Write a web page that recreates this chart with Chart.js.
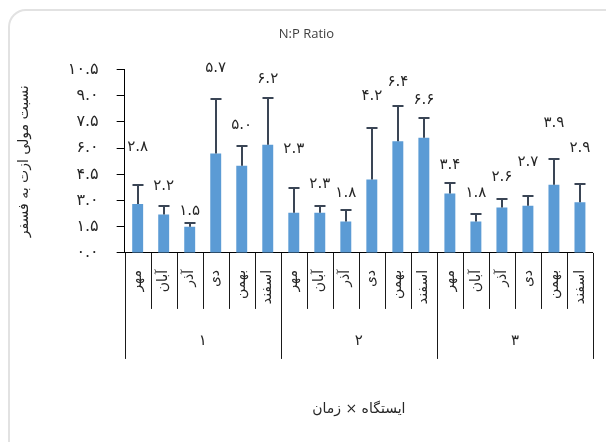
<!DOCTYPE html>
<html>
<head>
<meta charset="utf-8">
<script src="https://cdn.jsdelivr.net/npm/chart.js@4.4.0/dist/chart.umd.min.js"></script>
<style>
    html, body { margin: 0; padding: 0; background: #fff; overflow: hidden; }
    #wrap { position: relative; width: 606px; height: 442px; }
    #card { position: absolute; left: 8px; top: 9px; width: 640px; height: 480px;
            border: 2px solid #e2e2e2; border-radius: 18px; box-sizing: border-box; }
    canvas { position: absolute; left: 0; top: 0; }
</style>
</head>
<body>
<div id="wrap">
    <div id="card"></div>
    <canvas id="chart" width="606" height="442"></canvas>
</div>
<script>
// N:P ratio by station x month
const months = ['مهر', 'آبان', 'آذر', 'دی', 'بهمن', 'اسفند'];
const stations = ['۱', '۲', '۳'];
const values = [2.8, 2.2, 1.5, 5.7, 5.0, 6.2,
                2.3, 2.3, 1.8, 4.2, 6.4, 6.6,
                3.4, 1.8, 2.6, 2.7, 3.9, 2.9];
const errors = [1.08, 0.5, 0.21, 3.1, 1.14, 2.7,
                1.42, 0.4, 0.63, 2.96, 2.0, 1.15,
                0.6, 0.42, 0.49, 0.58, 1.46, 1.04];
// where each value label sits (in axis units), as placed in the original
const labelAt = [6.04, 3.80, 2.41, 10.56, 7.33, 9.97,
                 5.92, 3.95, 3.42, 9.01, 9.79, 8.78,
                 5.05, 3.42, 4.34, 5.21, 7.43, 5.98];

const labels = stations.flatMap(() => months);
const faFont = "'DejaVu Sans', sans-serif";

const toFa = s => String(s).replace(/\d/g, d => '۰۱۲۳۴۵۶۷۸۹'[d]);

const errorBars = {
    id: 'errorBars',
    afterDatasetsDraw(chart) {
        const { ctx, scales: { x, y } } = chart;
        ctx.save();
        ctx.strokeStyle = '#3a4555';
        ctx.lineWidth = 2;
        values.forEach((v, i) => {
            const cx = Math.round(x.getPixelForValue(i));
            const y0 = y.getPixelForValue(v);
            const y1 = Math.round(y.getPixelForValue(v + errors[i]));
            ctx.beginPath();
            ctx.moveTo(cx, y0);
            ctx.lineTo(cx, y1);
            ctx.moveTo(cx - 5.5, y1);
            ctx.lineTo(cx + 5.5, y1);
            ctx.stroke();
        });
        ctx.fillStyle = '#262626';
        ctx.font = '15px ' + faFont;
        ctx.textAlign = 'center';
        ctx.textBaseline = 'middle';
        values.forEach((v, i) => {
            ctx.fillText(toFa(v.toFixed(1)), x.getPixelForValue(i), y.getPixelForValue(labelAt[i]));
        });
        ctx.restore();
    }
};

const groupAxis = {
    id: 'groupAxis',
    afterDraw(chart) {
        const { ctx, scales: { x } } = chart;
        const n = labels.length;
        const top = x.top;
        const edge = i => i === 0 ? x.left : i === n ? x.right
            : (x.getPixelForValue(i - 1) + x.getPixelForValue(i)) / 2;
        ctx.save();
        ctx.strokeStyle = '#1a1a1a';
        ctx.lineWidth = 1;
        for (let i = 0; i <= n; i++) {
            const px = Math.round(edge(i)) + 0.5;
            const len = i % months.length === 0 ? 106 : 56;
            ctx.beginPath();
            ctx.moveTo(px, top);
            ctx.lineTo(px, top + len);
            ctx.stroke();
        }
        ctx.fillStyle = '#262626';
        ctx.font = '15px ' + faFont;
        ctx.textAlign = 'center';
        ctx.textBaseline = 'middle';
        stations.forEach((s, g) => {
            const a = x.getPixelForValue(g * months.length);
            const b = x.getPixelForValue(g * months.length + months.length - 1);
            ctx.fillText(s, (a + b) / 2, top + 88);
        });
        ctx.restore();
    }
};

new Chart(document.getElementById('chart'), {
    type: 'bar',
    data: {
        labels: labels,
        datasets: [{
            data: values,
            backgroundColor: '#5b9bd5',
            borderWidth: 0,
            categoryPercentage: 1,
            barPercentage: 0.42
        }]
    },
    options: {
        responsive: false,
        animation: false,
        layout: { padding: { left: 16, right: 9, top: 26, bottom: 24 } },
        plugins: {
            legend: { display: false },
            tooltip: { enabled: false },
            title: {
                display: true,
                text: 'N:P Ratio',
                color: '#404040',
                font: { family: "'Open Sans', sans-serif", size: 13, weight: 'normal' },
                padding: { top: 0, bottom: 28 }
            }
        },
        scales: {
            x: {
                grid: { display: false },
                border: { display: true, color: '#000', width: 1 },
                ticks: {
                    autoSkip: false,
                    minRotation: 90,
                    maxRotation: 90,
                    padding: 9,
                    color: '#262626',
                    font: { family: faFont, size: 14 }
                },
                title: {
                    display: true,
                    text: 'ایستگاه × زمان',
                    color: '#262626',
                    font: { family: faFont, size: 14 },
                    padding: { top: 88, bottom: 0 }
                }
            },
            y: {
                min: 0,
                max: 10.5,
                grid: { drawOnChartArea: false, drawTicks: true, tickLength: 8, color: '#000' },
                border: { display: true, color: '#000', width: 1 },
                ticks: {
                    stepSize: 1.5,
                    padding: 18,
                    color: '#262626',
                    font: { family: faFont, size: 16 },
                    callback: v => toFa(v.toFixed(1))
                },
                title: {
                    display: true,
                    text: 'نسبت مولی ازت به فسفر',
                    color: '#262626',
                    font: { family: faFont, size: 14 },
                    padding: { top: 0, bottom: 17 }
                }
            }
        }
    },
    plugins: [errorBars, groupAxis]
});
</script>
</body>
</html>
